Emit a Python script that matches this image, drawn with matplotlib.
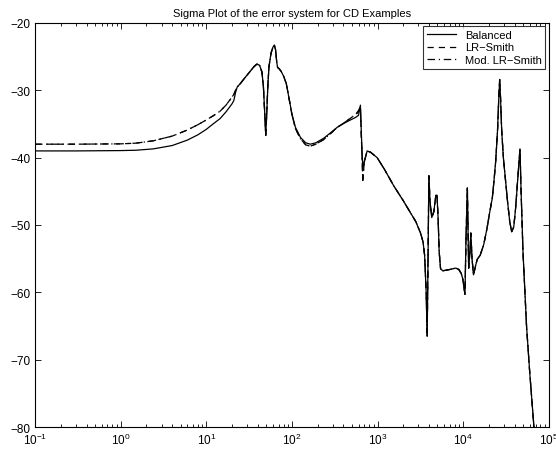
import numpy as np
import matplotlib
matplotlib.use("Agg")
import matplotlib.pyplot as plt

# --- Daten ---
# niedriger Bereich: hier liegen die Kurven auseinander
freq_low = [0.1, 0.3, 1.0, 1.5, 2.4, 4.0, 6.0, 8.0, 10.0, 12.0, 14.5, 17.0, 20.0]
bal_low = [-39.0, -39.0, -38.95, -38.9, -38.7, -38.2, -37.4, -36.6, -35.8, -35.0, -34.2, -33.2, -32.0]
lr_low = [-38.0, -38.0, -37.95, -37.85, -37.5, -36.8, -35.9, -35.1, -34.4, -33.8, -33.1, -32.2, -31.0]
mod_low = [-38.0, -38.0, -37.95, -37.85, -37.5, -36.8, -35.9, -35.1, -34.4, -33.8, -33.1, -32.2, -31.0]

# mittlerer/hoher Bereich
freq_mid = [21.0, 22.0, 23.0, 25.0, 28.0, 32.0, 36.0, 39.0, 42.0, 44.7, 46.5, 48.0, 49.5,
            51.0, 52.5, 54.0, 57.0, 60.0, 62.4, 64.5, 66.5, 68.0, 71.0, 75.0, 80.0, 86.0,
            92.0, 100.0, 110.0, 126.0, 145.0, 164.0, 190.0, 236.0, 290.0, 338.0, 420.0,
            501.0, 560.0, 600.0, 631.0, 650.0, 673.0, 700.0, 757.0, 830.0, 990.0, 1200.0,
            1550.0, 2000.0, 2430.0, 2800.0, 3180.0, 3400.0, 3550.0, 3700.0, 3800.0, 3890.0,
            3980.0, 4100.0, 4300.0, 4550.0, 4800.0, 4950.0, 5100.0, 5250.0, 5450.0, 5800.0,
            7000.0, 8200.0, 8900.0, 9500.0, 9900.0, 10500.0, 10800.0, 11200.0, 11600.0,
            12000.0, 12300.0, 12700.0, 13200.0, 14000.0, 14600.0, 15800.0, 17400.0, 19000.0,
            20500.0, 21900.0, 22900.0, 24000.0, 25200.0, 26100.0, 26700.0, 27300.0, 28200.0,
            29500.0, 31600.0, 33000.0, 35000.0, 36900.0, 39000.0, 41000.0, 43500.0, 46100.0,
            47500.0, 50000.0, 55000.0, 60000.0, 67600.0]
bal_mid = [-31.5, -30.3, -29.5, -29.0, -28.2, -27.3, -26.5, -26.1, -26.3, -27.3, -29.5, -33.0, -36.7,
           -33.0, -29.0, -26.5, -24.5, -23.6, -23.3, -24.0, -25.8, -26.6, -26.8, -27.2, -27.9, -29.0,
           -31.0, -33.5, -35.5, -37.0, -37.8, -38.0, -37.8, -37.1, -36.2, -35.5, -34.8,
           -34.3, -34.0, -33.7, -32.2, -37.0, -41.7, -40.5, -39.0, -39.2, -40.0, -41.7,
           -44.2, -46.4, -48.2, -49.5, -51.2, -52.5, -54.5, -60.0, -66.5, -55.0,
           -42.7, -46.5, -48.9, -48.0, -45.6, -45.6, -49.0, -54.0, -56.5, -56.8,
           -56.6, -56.4, -56.6, -57.2, -58.0, -60.3, -52.0, -44.5, -56.4,
           -54.0, -51.2, -55.0, -57.4, -56.0, -55.1, -54.5, -52.9, -50.5,
           -48.0, -46.0, -43.5, -40.5, -36.0, -31.0, -28.4, -31.0, -36.0,
           -40.0, -44.0, -46.5, -49.5, -51.0, -50.3, -47.5, -43.0, -38.7,
           -45.0, -54.0, -65.0, -72.0, -80.5]
lr_mid = [-30.6, -30.0, -29.5, -29.0, -28.2, -27.3, -26.5, -26.1, -26.3, -27.3, -29.5, -33.0, -36.7,
          -33.0, -29.0, -26.5, -24.5, -23.6, -23.3, -24.0, -25.8, -26.6, -26.8, -27.2, -27.9, -29.0,
          -31.0, -33.6, -35.7, -37.2, -38.1, -38.3, -38.0, -37.3, -36.3, -35.5, -34.7,
          -34.0, -33.6, -33.2, -32.4, -37.5, -43.2, -40.7, -39.0, -39.2, -40.0, -41.7,
          -44.2, -46.4, -48.2, -49.5, -51.2, -52.5, -54.5, -60.0, -66.5, -55.0,
          -42.7, -46.5, -48.9, -48.0, -45.6, -45.6, -49.0, -54.0, -56.5, -56.8,
          -56.6, -56.4, -56.6, -57.2, -58.0, -60.3, -52.0, -44.5, -56.4,
          -54.0, -51.2, -55.0, -57.4, -56.0, -55.1, -54.5, -52.9, -50.5,
          -48.0, -46.0, -43.5, -40.5, -36.0, -31.0, -28.4, -31.0, -36.0,
          -40.0, -44.0, -46.5, -49.5, -51.0, -50.3, -47.5, -43.0, -38.7,
          -45.0, -54.0, -65.0, -72.0, -80.5]
mod_mid = [-30.6, -30.0, -29.5, -29.0, -28.2, -27.3, -26.5, -26.1, -26.3, -27.3, -29.5, -33.0, -36.7,
           -33.0, -29.0, -26.5, -24.5, -23.6, -23.3, -24.0, -25.8, -26.6, -26.8, -27.2, -27.9, -29.0,
           -31.0, -33.6, -35.7, -37.2, -38.1, -38.3, -38.0, -37.3, -36.3, -35.5, -34.7,
           -34.0, -33.5, -33.0, -32.4, -37.6, -43.4, -40.7, -39.0, -39.2, -40.0, -41.7,
           -44.2, -46.4, -48.2, -49.5, -51.2, -52.5, -54.5, -60.0, -66.5, -55.0,
           -42.7, -46.5, -48.9, -48.0, -45.6, -45.6, -49.0, -54.0, -56.5, -56.8,
           -56.6, -56.4, -56.6, -57.2, -58.0, -60.3, -52.0, -44.5, -56.4,
           -54.0, -51.2, -55.0, -57.4, -56.0, -55.1, -54.5, -52.9, -50.5,
           -48.0, -46.0, -43.5, -40.5, -36.0, -31.0, -28.4, -31.0, -36.0,
           -40.0, -44.0, -46.5, -49.5, -51.0, -50.3, -47.5, -43.0, -38.7,
           -45.0, -54.0, -65.0, -72.0, -80.5]

freq = freq_low + freq_mid
balanced = bal_low + bal_mid
lr_smith = lr_low + lr_mid
mod_lr_smith = mod_low + mod_mid

plt.rcParams["font.family"] = ["Liberation Sans", "DejaVu Sans"]
# Exponenten der Achsenbeschriftung in derselben Schrift
plt.rcParams["mathtext.fontset"] = "custom"
plt.rcParams["mathtext.rm"] = "Liberation Sans"
plt.rcParams["mathtext.it"] = "Liberation Sans:italic"
plt.rcParams["mathtext.bf"] = "Liberation Sans:bold"

fig = plt.figure(figsize=(5.56, 4.52), dpi=100)
ax = fig.add_axes([0.063, 0.053, 0.924, 0.894])

ax.semilogx(freq, balanced, color="black", linewidth=0.9, linestyle="-", label="Balanced")
ax.semilogx(freq, lr_smith, color="black", linewidth=0.9, linestyle=(0, (5, 4)), label="LR\u2212Smith")
ax.semilogx(freq, mod_lr_smith, color="black", linewidth=0.9, linestyle=(0, (6, 3, 1, 3)),
            label="Mod. LR\u2212Smith")

ax.set_xlim(1e-1, 1e5)
ax.set_ylim(-80, -20)
ax.set_yticks([-80, -70, -60, -50, -40, -30, -20])
ax.tick_params(which="both", direction="in", top=True, right=True, labelsize=8.5, width=0.6)
ax.tick_params(which="major", length=4)
ax.tick_params(which="minor", length=2)
for s in ax.spines.values():
    s.set_linewidth(0.8)

ax.set_title("Sigma Plot of the error system for CD Examples", fontsize=8, pad=5)

leg = ax.legend(loc="upper right", fontsize=8, frameon=True, fancybox=False,
                edgecolor="black", borderaxespad=0.3, handlelength=2.6,
                borderpad=0.35, labelspacing=0.2)
leg.get_frame().set_linewidth(0.8)

fig.savefig("out.png", dpi=100)
